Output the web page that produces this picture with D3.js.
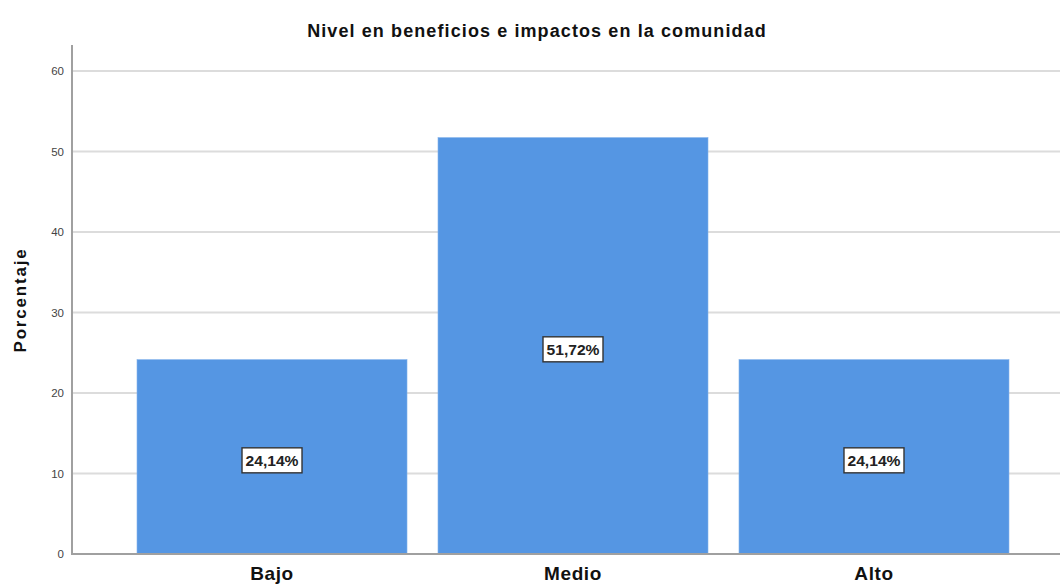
<!DOCTYPE html>
<html><head><meta charset="utf-8">
<script src="https://cdn.jsdelivr.net/npm/d3@7"></script>
<style>
html,body{margin:0;padding:0;background:#fff;}
svg{display:block;font-family:"Liberation Sans",Arial,sans-serif;}
</style></head>
<body>
<svg id="chart" width="1060" height="584"></svg>
<script>
const categories = ["Bajo", "Medio", "Alto"];
const values = [24.14, 51.72, 24.14];
const labels = ["24,14%", "51,72%", "24,14%"];
const yTicks = [0, 10, 20, 30, 40, 50, 60];
const title = "Nivel en beneficios e impactos en la comunidad";
const yTitle = "Porcentaje";

const svg = d3.select("#chart");
const x0 = 72, y0 = 554;
const y = d3.scaleLinear().domain([0, 60]).range([y0, 71]);
const x = d3.scaleBand().domain(categories).range([x0, 1074]).paddingInner(0.103).paddingOuter(0.216);

// gridlines
svg.append("g").selectAll("line").data(yTicks.filter(d => d > 0)).join("line")
  .attr("x1", x0).attr("x2", 1060).attr("y1", d => y(d)).attr("y2", d => y(d))
  .attr("stroke", "#dcdcdc").attr("stroke-width", 2);

// bars
svg.append("g").selectAll("rect").data(values).join("rect")
  .attr("x", (d, i) => x(categories[i])).attr("width", x.bandwidth())
  .attr("y", d => y(d)).attr("height", d => y0 - y(d))
  .attr("fill", "#5596e3").attr("stroke", "#7fb0ea").attr("stroke-width", 0.6);

// axes
const yAxis = d3.axisLeft(y).tickValues(yTicks).tickSize(0).tickPadding(8);
const gy = svg.append("g").attr("transform", `translate(${x0},0)`).call(yAxis);
gy.select(".domain").remove();
gy.selectAll("text").attr("font-size", 11.5).attr("fill", "#444").attr("font-family", "Liberation Sans, Arial, sans-serif");
svg.append("line").attr("x1", x0).attr("x2", x0).attr("y1", 45).attr("y2", y0 + 1)
  .attr("stroke", "#a0a0a0").attr("stroke-width", 2);

const xAxis = d3.axisBottom(x).tickSize(0).tickPadding(13);
const gx = svg.append("g").attr("transform", `translate(0,${y0})`).call(xAxis);
gx.select(".domain").remove();
gx.selectAll("text").attr("font-size", 19).attr("font-weight", "bold").attr("fill", "#111")
  .attr("letter-spacing", 0.6).attr("font-family", "Liberation Sans, Arial, sans-serif");
svg.append("line").attr("x1", x0).attr("x2", 1060).attr("y1", y0).attr("y2", y0)
  .attr("stroke", "#a0a0a0").attr("stroke-width", 2);

// value labels
const lg = svg.append("g").selectAll("g").data(values).join("g")
  .attr("transform", (d, i) => `translate(${x(categories[i]) + x.bandwidth() / 2},${y(d / 2) + 3.5})`);
lg.append("rect").attr("x", -30).attr("y", -12.5).attr("width", 60).attr("height", 25)
  .attr("fill", "#fff").attr("stroke", "#333").attr("stroke-width", 1.4);
lg.append("text").text((d, i) => labels[i]).attr("text-anchor", "middle").attr("dy", "0.36em")
  .attr("font-size", 15).attr("font-weight", "bold").attr("fill", "#222")
  .attr("textLength", 53).attr("lengthAdjust", "spacingAndGlyphs")
  .attr("font-family", "'Liberation Sans Narrow', 'Arial Narrow', 'Liberation Sans', sans-serif");

// titles
svg.append("text").attr("x", 537).attr("y", 37).attr("text-anchor", "middle")
  .attr("font-size", 18).attr("font-weight", "bold").attr("fill", "#111")
  .attr("letter-spacing", 1.1).text(title);
svg.append("text").attr("transform", "translate(26,300) rotate(-90)").attr("text-anchor", "middle")
  .attr("font-size", 17).attr("font-weight", "bold").attr("fill", "#111")
  .attr("letter-spacing", 1.8).text(yTitle);
</script>
</body></html>
